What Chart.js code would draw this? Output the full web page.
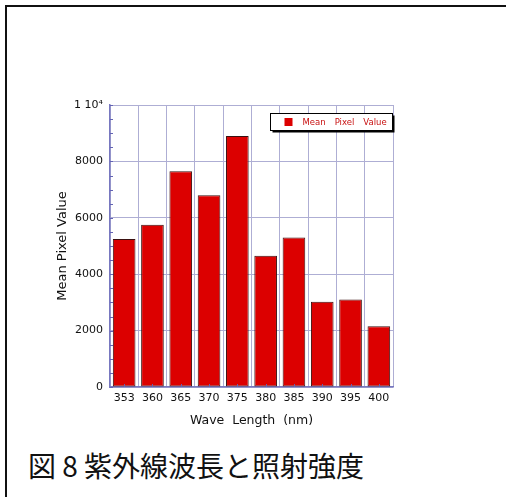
<!DOCTYPE html>
<html>
<head>
<meta charset="utf-8">
<script src="https://cdn.jsdelivr.net/npm/chart.js@4/dist/chart.umd.min.js"></script>
<style>
  html, body { margin: 0; padding: 0; background: #fff; }
  #page { position: relative; width: 506px; height: 497px; overflow: hidden; background: #fff; }
  #frame { position: absolute; left: 5px; top: 5px; width: 510px; height: 500px;
           border-top: 2px solid #111; border-left: 2px solid #111; box-sizing: border-box; }
  #wrap { position: absolute; left: 0; top: 0; width: 506px; height: 440px; }
  #caption { position: absolute; left: 28px; top: 451px; font-family: "Noto Sans CJK JP", sans-serif;
             font-size: 28px; line-height: 28px; color: #111; white-space: pre; }
</style>
</head>
<body>
<div id="page">
  <div id="frame"></div>
  <div id="wrap"><canvas id="chart" width="506" height="440"></canvas></div>
  <div id="caption">図 8 紫外線波長と照射強度</div>
</div>
<script>
// Wavelengths of the UV source (nm) and the measured mean pixel value at each
const waveLengths = ['353', '360', '365', '370', '375', '380', '385', '390', '395', '400'];
const meanPixelValues = [5250, 5750, 7650, 6800, 8900, 4650, 5300, 3020, 3100, 2150];
const seriesLabel = 'Mean Pixel Value';
const yMax = 10000;
const yStep = 2000;
const yMinorStep = 500;

const axisColor = '#7878c0';
const gridColor = '#aeaed4';
const tickFont = { family: 'DejaVu Sans', size: 11 };

// Small inward tick marks: every 500 on the value axis, bar centres on the category axis
const minorTicks = {
  id: 'minorTicks',
  afterDatasetsDraw(chart) {
    const { ctx, scales: { x, y } } = chart;
    ctx.save();
    ctx.strokeStyle = '#6464b4';
    ctx.lineWidth = 1;
    ctx.beginPath();
    for (let v = 0; v <= yMax; v += yMinorStep) {
      const py = Math.round(y.getPixelForValue(v)) + 0.5;
      ctx.moveTo(x.left, py);
      ctx.lineTo(x.left + 3, py);
    }
    waveLengths.forEach((_, i) => {
      const px = Math.round(x.getPixelForValue(i)) + 0.5;
      ctx.moveTo(px, y.bottom);
      ctx.lineTo(px, y.bottom - 3);
    });
    ctx.stroke();
    ctx.restore();
  }
};

// Boxed legend with a drop shadow in the upper right of the plot
const boxLegend = {
  id: 'boxLegend',
  afterDraw(chart) {
    const { ctx, chartArea } = chart;
    const ds = chart.data.datasets[0];
    const w = 122, h = 17;
    const bx = chartArea.right - w - 0.5, by = chartArea.top + 8.5;
    ctx.save();
    ctx.fillStyle = '#000';
    ctx.fillRect(bx + 2, by + 2, w, h);
    ctx.fillStyle = '#fff';
    ctx.fillRect(bx, by, w, h);
    ctx.strokeStyle = '#000';
    ctx.lineWidth = 1;
    ctx.strokeRect(bx, by, w, h);
    ctx.fillStyle = ds.backgroundColor;
    ctx.fillRect(bx + 14, by + 4.5, 8, 8);
    ctx.fillStyle = '#c81010';
    ctx.font = '8.5px "DejaVu Sans"';
    ctx.textBaseline = 'middle';
    let tx = bx + 32;
    ds.label.split(' ').forEach(word => {
      ctx.fillText(word, tx, by + h / 2 + 0.5);
      tx += ctx.measureText(word).width + 9;
    });
    ctx.restore();
  }
};

new Chart(document.getElementById('chart'), {
  type: 'bar',
  data: {
    labels: waveLengths,
    datasets: [{
      label: seriesLabel,
      data: meanPixelValues,
      backgroundColor: '#dc0000',
      borderColor: '#3a1010',
      borderWidth: 1,
      borderSkipped: false,
      barPercentage: 0.8,
      categoryPercentage: 1.0
    }]
  },
  options: {
    responsive: false,
    animation: false,
    layout: { padding: { left: 0, top: 105, right: 113, bottom: 0 } },
    plugins: { legend: { display: false }, tooltip: { enabled: false } },
    scales: {
      x: {
        offset: true,
        grid: { color: gridColor, lineWidth: 1, drawTicks: false, offset: true },
        border: { display: true, color: axisColor, width: 1.5 },
        ticks: { color: '#111', font: tickFont, padding: 5, maxRotation: 0 },
        title: {
          display: true, text: 'Wave  Length  (nm)', color: '#111',
          font: { family: 'DejaVu Sans', size: 12.5 }, padding: { top: 0, bottom: 12 }
        },
        afterFit(scale) { scale.height = 53; }
      },
      y: {
        min: 0, max: yMax,
        grid: { color: gridColor, lineWidth: 1, drawTicks: false },
        border: { display: true, color: axisColor, width: 1.5 },
        ticks: {
          stepSize: yStep, color: '#111', font: tickFont, padding: 7,
          callback: v => (v === yMax ? '1 10\u2074' : String(v))
        },
        title: {
          display: true, text: 'Mean Pixel Value', color: '#111',
          font: { family: 'DejaVu Sans', size: 13 }, padding: { top: 55, bottom: 0 }
        },
        afterFit(scale) { scale.width = 110; }
      }
    }
  },
  plugins: [minorTicks, boxLegend]
});
</script>
</body>
</html>
